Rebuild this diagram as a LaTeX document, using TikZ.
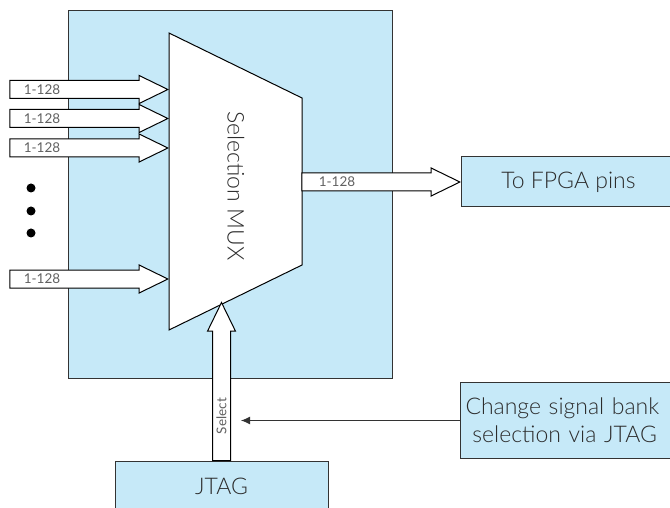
\documentclass[tikz,border=0pt]{standalone}
\usepackage{fontspec}
\setmainfont{Lato}[UprightFont=* Light]
\newfontfamily\busfont{Lato}
\usetikzlibrary{shapes.arrows,arrows.meta,calc}
\definecolor{boxblue}{RGB}{198,233,248}
\definecolor{txtgray}{RGB}{44,44,44}

\begin{document}
\begin{tikzpicture}[x=1pt,y=-1pt,
		blk/.style={draw=black!80, fill=boxblue, line width=1pt, inner sep=0pt},
		bus/.style={single arrow, draw=black, fill=white, line width=1pt, inner xsep=0pt, inner ysep=8.5pt,
			minimum height=158pt, minimum width=27pt, single arrow head extend=5pt, single arrow tip angle=52},
		buslbl/.style={font=\busfont\fontsize{13.5}{14}\selectfont, text=black!62},
		lbl/.style={font=\fontsize{23}{28}\selectfont, text=txtgray}]
			\useasboundingbox (0,0) rectangle (670,508);
			\clip (0,0) rectangle (670,508);
			\node[blk, anchor=north west, minimum width=324pt, minimum height=368pt] (fpga) at (68,10) {};
			\coordinate (mux-a) at (169,33);
			\coordinate (mux-b) at (302,98);
			\coordinate (mux-c) at (302,265);
			\coordinate (mux-d) at (169,330);
			\draw[line width=1pt, fill=white] (mux-a) -- (mux-b) -- (mux-c) -- (mux-d) -- cycle;
			\node[lbl, rotate=-90] (muxlbl) at (236,186) {Selection MUX};
			\node[bus, anchor=tip] (in1) at (mux-a |- 0,89.5) {};
			\node[bus, anchor=tip] (in2) at (mux-a |- 0,118.5) {};
			\node[bus, anchor=tip] (in3) at (mux-a |- 0,148) {};
			\node[bus, anchor=tip] (in4) at (mux-a |- 0,279) {};
			\foreach \i in {1,...,4}
				\node[buslbl, anchor=west] (lbl\i) at ($(in\i.tail)+(11,0)$) {1-128};
			\fill (31,188) circle[radius=4.5pt];
			\fill (31,211) circle[radius=4.5pt];
			\fill (31,233) circle[radius=4.5pt];
			\node[blk, lbl, anchor=west, minimum width=214pt, minimum height=50pt] (pins) at (461,182) {To FPGA pins};
			\node[bus, anchor=tip] (out) at (pins.west) {};
			\node[buslbl, anchor=west] (outlbl) at ($(out.tail)+(14,0)$) {1-128};
			\node[blk, lbl, anchor=north, minimum width=213pt, minimum height=70pt, text depth=20pt] (jtag) at (221.5,461) {JTAG};
			\node[bus, shape border rotate=90, anchor=tail, inner xsep=8.5pt, inner ysep=0pt] (sel) at (jtag.north) {};
			\node[buslbl, rotate=90] (sellbl) at ($(jtag.north)+(0,-45)$) {Select};
			\node[blk, lbl, anchor=north west, text width=210pt, inner xsep=5pt, align=left, minimum height=76pt] (chg) at (460,382)
				{Change signal bank\\\hspace*{0.3em}selection via JTAG};
			\draw[line width=1pt, draw=black!80, -{Latex[length=9pt,width=8pt]}] (chg.west) -- ($(sel.east |- chg.west)+(10,0)$);
		\end{tikzpicture}
\end{document}
